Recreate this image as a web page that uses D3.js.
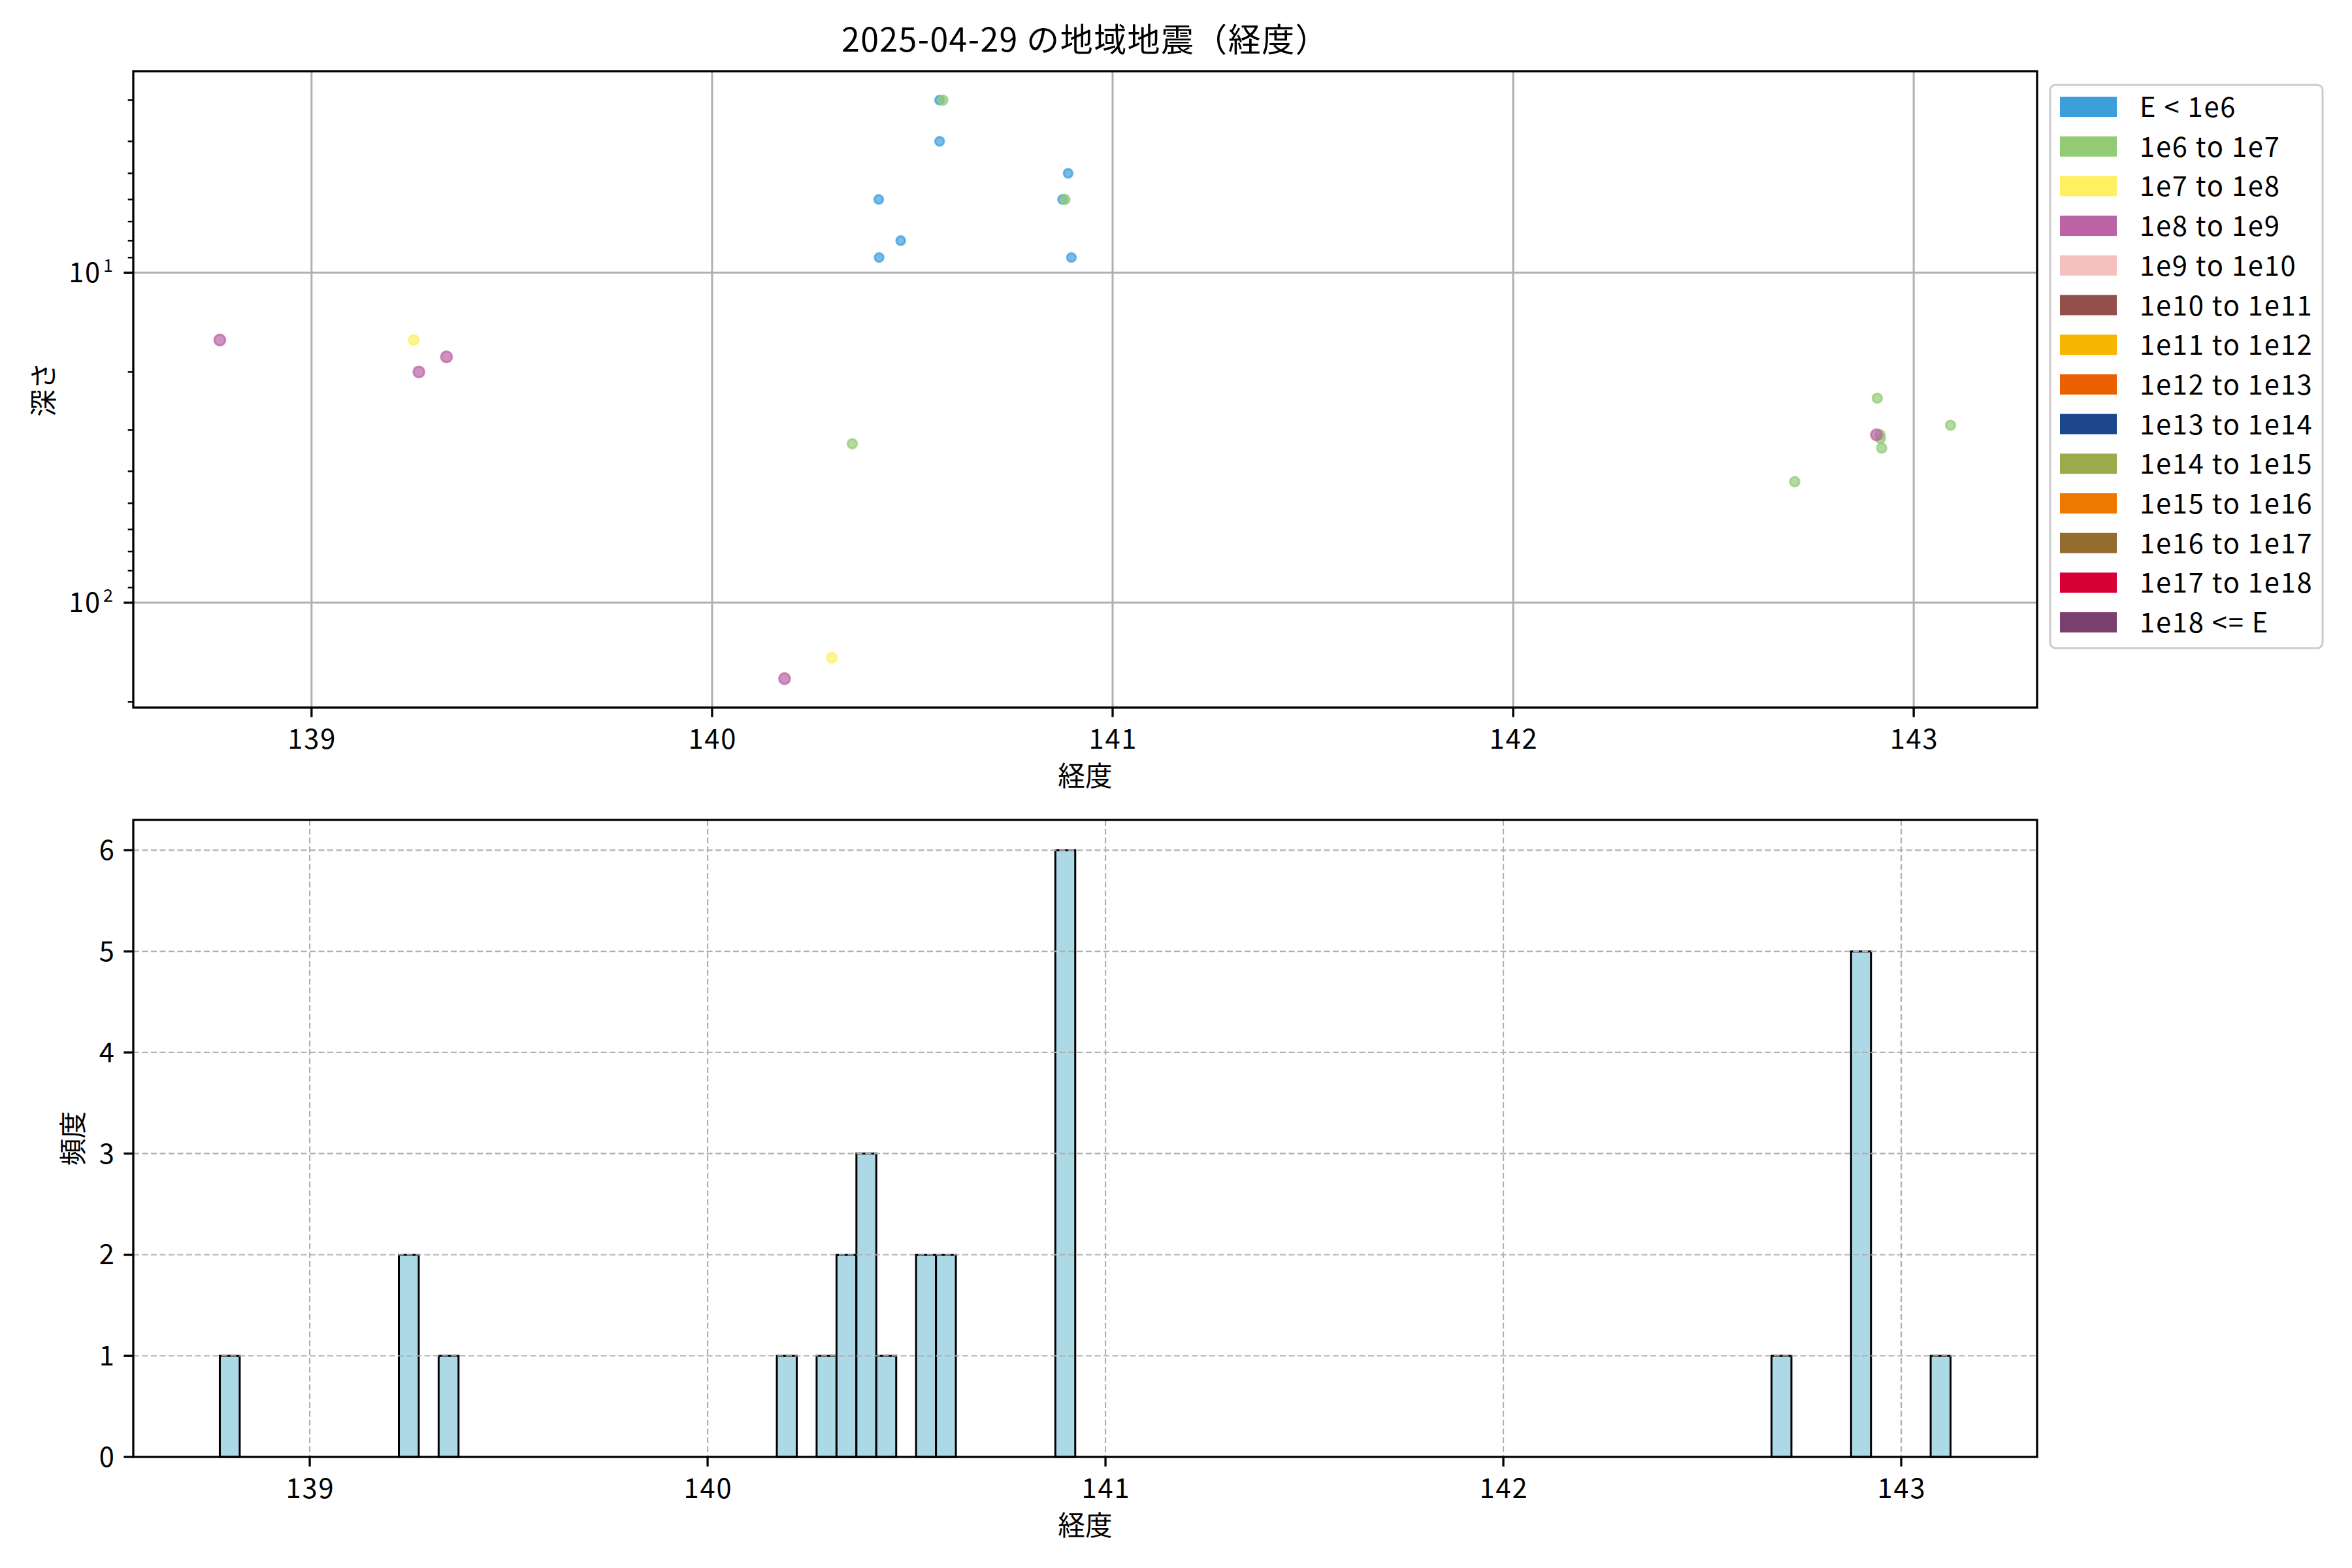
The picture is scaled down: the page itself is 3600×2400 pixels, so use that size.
<!DOCTYPE html>
<html><head><meta charset="utf-8">
<script src="https://cdn.jsdelivr.net/npm/d3@7"></script>
<style>
body{margin:0;background:#fff}
text{font-family:"Noto Sans CJK JP","Noto Sans",sans-serif;fill:#000}
</style>
</head><body>
<svg id="c" width="3600" height="2400"></svg>
<script>
// ---------- data ----------
const titleText = "2025-04-29 の地域地震（経度）";
const xLabel = "経度";
const yLabelTop = "深さ";
const yLabelBottom = "頻度";

const classLabels = ["E < 1e6","1e6 to 1e7","1e7 to 1e8","1e8 to 1e9","1e9 to 1e10","1e10 to 1e11",
  "1e11 to 1e12","1e12 to 1e13","1e13 to 1e14","1e14 to 1e15","1e15 to 1e16","1e16 to 1e17",
  "1e17 to 1e18","1e18 <= E"];
const classColors = ["#3a9fdb","#93ca76","#fff062","#bb63a4","#f5c1be","#954f4b","#f7b500",
  "#eb6101","#1c478d","#9aab4e","#ee7800","#946c2d","#d70035","#7a416f"];

// scatter points (longitude, depth km, energy class index)
const pointLon   = [138.771,139.255,139.268,139.337,140.181,140.299,140.350,140.416,140.417,140.471,
                    140.568,140.576,140.568,140.875,140.881,140.889,140.897,142.703,142.909,142.916,
                    142.917,142.907,142.920,143.092];
const pointDepth = [16,16,20,18,170,147,33,6,9,8,
                    3,3,4,6,6,5,9,43,24,31,
                    31.8,31,34,29];
const pointClass = [3,2,3,3,3,2,1,0,0,0,
                    0,1,0,0,1,0,0,1,1,1,
                    1,3,1,1];

// histogram of longitude (bin left edges, counts)
const histBinWidth = 0.05;
const histRange = [138.774, 143.124];
const histBinLeft = [138.774,139.224,139.324,140.174,140.274,140.324,140.374,140.424,140.524,140.574,
                     140.874,142.674,142.874,143.074];
const histCount   = [1,2,1,1,1,2,3,1,2,2,6,1,5,1];

const xTicks = [139,140,141,142,143];
const countTicks = [0,1,2,3,4,5,6];

// ---------- layout ----------
const FS = 41.67;
const LS = 1.8; // letter spacing for latin text
const svg = d3.select("#c");
const L = 204, R = 3118;
const top1 = 109, bot1 = 1083;
const top2 = 1255, bot2 = 2230;
const tickLen = 14.6, tickW = 3.3, spineW = 3.3;

function withMargin(lo, hi, m){ const r = hi - lo; return [lo - m*r, hi + m*r]; }

// ---------- top scatter ----------
const xTop = d3.scaleLinear().domain(withMargin(d3.min(pointLon), d3.max(pointLon), 0.05)).range([L, R]);
const ld = withMargin(Math.log10(d3.min(pointDepth)), Math.log10(d3.max(pointDepth)), 0.05);
const yTop = d3.scaleLog().domain([10**ld[0], 10**ld[1]]).range([top1, bot1]);

const gTop = svg.append("g");
const radius = [6.8, 7.2, 7.6, 8.4];
const pts = d3.range(pointLon.length).map(i => ({lon: pointLon[i], d: pointDepth[i], c: pointClass[i]}))
  .sort((a,b) => a.c - b.c);
gTop.selectAll("circle.pt").data(pts).join("circle")
  .attr("cx", d => xTop(d.lon)).attr("cy", d => yTop(d.d))
  .attr("r", d => radius[Math.min(d.c,3)])
  .attr("fill", d => classColors[d.c]).attr("fill-opacity", 0.7)
  .attr("stroke", d => classColors[d.c]).attr("stroke-opacity", 0.7).attr("stroke-width", 3);

// grid top
const majorDepth = yTop.ticks().filter(v => Math.abs(Math.log10(v) - Math.round(Math.log10(v))) < 1e-9);
const minorDepth = yTop.ticks().filter(v => !majorDepth.includes(v));
gTop.selectAll("line.gx").data(xTicks).join("line")
  .attr("x1", d => xTop(d)).attr("x2", d => xTop(d)).attr("y1", top1).attr("y2", bot1)
  .attr("stroke", "#b0b0b0").attr("stroke-width", 3);
gTop.selectAll("line.gy").data(majorDepth).join("line")
  .attr("x1", L).attr("x2", R).attr("y1", d => yTop(d)).attr("y2", d => yTop(d))
  .attr("stroke", "#b0b0b0").attr("stroke-width", 3);

// ticks top
gTop.selectAll("line.tx").data(xTicks).join("line")
  .attr("x1", d => xTop(d)).attr("x2", d => xTop(d)).attr("y1", bot1).attr("y2", bot1 + tickLen)
  .attr("stroke", "#000").attr("stroke-width", tickW);
gTop.selectAll("text.tx").data(xTicks).join("text")
  .attr("x", d => xTop(d) + LS / 2).attr("y", bot1 + 63).attr("text-anchor", "middle")
  .attr("letter-spacing", LS).attr("font-size", FS).text(d => d);
gTop.selectAll("line.ty").data(majorDepth).join("line")
  .attr("x1", L - tickLen).attr("x2", L).attr("y1", d => yTop(d)).attr("y2", d => yTop(d))
  .attr("stroke", "#000").attr("stroke-width", tickW);
gTop.selectAll("line.tym").data(minorDepth).join("line")
  .attr("x1", L - 8.3).attr("x2", L).attr("y1", d => yTop(d)).attr("y2", d => yTop(d))
  .attr("stroke", "#000").attr("stroke-width", 2.5);
const yl = gTop.selectAll("text.ty").data(majorDepth).join("text")
  .attr("x", L - tickLen - 14.6).attr("y", d => yTop(d) + 15).attr("text-anchor", "end")
  .attr("letter-spacing", LS).attr("font-size", FS);
yl.append("tspan").text("10");
yl.append("tspan").attr("font-size", 27).attr("dx", 3).attr("dy", -16).text(d => Math.round(Math.log10(d)));

// spines top
gTop.append("rect").attr("x", L).attr("y", top1).attr("width", R - L).attr("height", bot1 - top1)
  .attr("fill", "none").attr("stroke", "#000").attr("stroke-width", spineW);

// labels top
svg.append("text").attr("x", (L + R) / 2).attr("y", 79).attr("text-anchor", "middle")
  .attr("letter-spacing", 1.4).attr("font-size", 50).text(titleText);
svg.append("text").attr("x", (L + R) / 2).attr("y", bot1 + 120).attr("text-anchor", "middle")
  .attr("font-size", FS).text(xLabel);
svg.append("text").attr("transform", `translate(82,${(top1 + bot1) / 2}) rotate(-90)`)
  .attr("text-anchor", "middle").attr("font-size", FS).text(yLabelTop);

// legend
const lg = svg.append("g");
lg.append("rect").attr("x", 3138).attr("y", 130).attr("width", 417).attr("height", 862)
  .attr("rx", 8).attr("fill", "#fff").attr("fill-opacity", 0.8)
  .attr("stroke", "#cccccc").attr("stroke-width", 3);
const rowY = d3.scaleLinear().domain([0, 1]).range([163.5, 163.5 + 60.7]);
lg.selectAll("rect.sw").data(classLabels).join("rect")
  .attr("x", 3153).attr("y", (d, i) => rowY(i) - 15.5).attr("width", 87).attr("height", 31)
  .attr("fill", (d, i) => classColors[i]);
lg.selectAll("text.lb").data(classLabels).join("text")
  .attr("x", 3275).attr("y", (d, i) => rowY(i) + 15.5).attr("font-size", FS)
  .attr("letter-spacing", LS).text(d => d);

// ---------- bottom histogram ----------
const xBot = d3.scaleLinear().domain(withMargin(histRange[0], histRange[1], 0.05)).range([L, R]);
const yBot = d3.scaleLinear().domain([0, d3.max(histCount) * 1.05]).range([bot2, top2]);
const gBot = svg.append("g");
const bins = histBinLeft.map((x, i) => ({x0: x, x1: x + histBinWidth, n: histCount[i]}));
gBot.selectAll("rect.bar").data(bins).join("rect")
  .attr("x", d => xBot(d.x0)).attr("width", d => xBot(d.x1) - xBot(d.x0))
  .attr("y", d => yBot(d.n)).attr("height", d => yBot(0) - yBot(d.n))
  .attr("fill", "#add8e6").attr("stroke", "#000").attr("stroke-width", 3);

// grid bottom (dashed, above bars)
gBot.selectAll("line.gx").data(xTicks).join("line")
  .attr("x1", d => xBot(d)).attr("x2", d => xBot(d)).attr("y1", top2).attr("y2", bot2)
  .attr("stroke", "#b0b0b0").attr("stroke-width", 2.2).attr("stroke-dasharray", "9,4.5");
gBot.selectAll("line.gy").data(countTicks).join("line")
  .attr("x1", L).attr("x2", R).attr("y1", d => yBot(d)).attr("y2", d => yBot(d))
  .attr("stroke", "#b0b0b0").attr("stroke-width", 2.2).attr("stroke-dasharray", "9,4.5");

// ticks bottom
gBot.selectAll("line.tx").data(xTicks).join("line")
  .attr("x1", d => xBot(d)).attr("x2", d => xBot(d)).attr("y1", bot2).attr("y2", bot2 + tickLen)
  .attr("stroke", "#000").attr("stroke-width", tickW);
gBot.selectAll("text.tx").data(xTicks).join("text")
  .attr("x", d => xBot(d) + LS / 2).attr("y", bot2 + 63).attr("text-anchor", "middle")
  .attr("letter-spacing", LS).attr("font-size", FS).text(d => d);
gBot.selectAll("line.ty").data(countTicks).join("line")
  .attr("x1", L - tickLen).attr("x2", L).attr("y1", d => yBot(d)).attr("y2", d => yBot(d))
  .attr("stroke", "#000").attr("stroke-width", tickW);
gBot.selectAll("text.ty").data(countTicks).join("text")
  .attr("x", L - tickLen - 14.6).attr("y", d => yBot(d) + 15).attr("text-anchor", "end")
  .attr("font-size", FS).text(d => d);

gBot.append("rect").attr("x", L).attr("y", top2).attr("width", R - L).attr("height", bot2 - top2)
  .attr("fill", "none").attr("stroke", "#000").attr("stroke-width", spineW);

svg.append("text").attr("x", (L + R) / 2).attr("y", bot2 + 120).attr("text-anchor", "middle")
  .attr("font-size", FS).text(xLabel);
svg.append("text").attr("transform", `translate(127,${(top2 + bot2) / 2}) rotate(-90)`)
  .attr("text-anchor", "middle").attr("font-size", FS).text(yLabelBottom);
</script>
</body></html>
